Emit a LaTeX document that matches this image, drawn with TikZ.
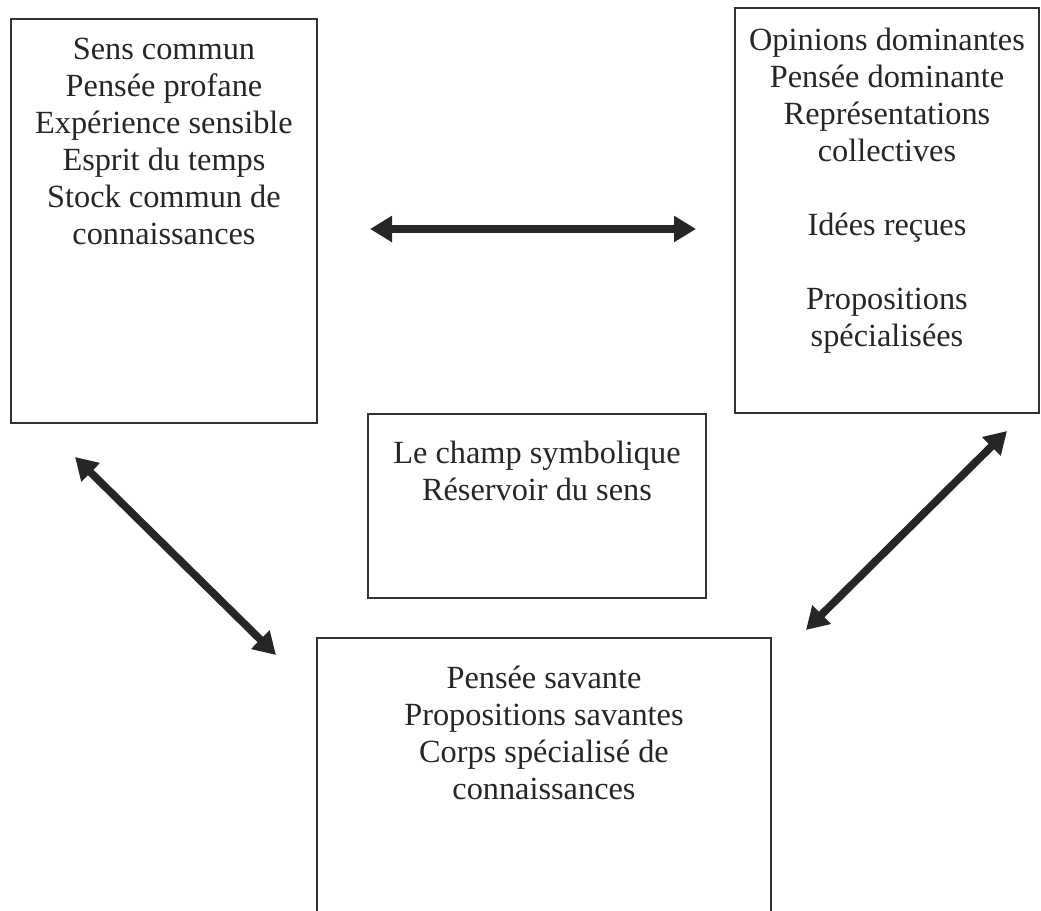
\documentclass[tikz,border=0pt]{standalone}
\usepackage{fontspec}
\setmainfont{Liberation Serif}
\usepackage{tikz}
\usetikzlibrary{calc,arrows.meta}
\definecolor{ink}{HTML}{262626}
\definecolor{frame_grey}{HTML}{333333}

\begin{document}
\begin{tikzpicture}[x=0.02cm, y=-0.02cm,
	box/.style={draw=frame_grey, line width=1.1pt, anchor=north west, outer sep=0pt, inner sep=0pt},
	words/.style={anchor=north, inner sep=0pt, align=center, text=ink, font=\fontsize{18.4pt}{21.05pt}\selectfont},
	link/.style={draw=ink, line width=4.4pt, {Triangle[length=0.44cm, width=0.5cm]}-{Triangle[length=0.44cm, width=0.5cm]}}]
	\path[use as bounding box, clip] (0, 0) rectangle (1041, 911);
	% the four boxes
	\node[box, minimum width=6.12cm, minimum height=8.08cm] (profane) at (11, 19) {};
	\node[box, minimum width=6.08cm, minimum height=8.1cm] (dominant) at (735, 8) {};
	\node[box, minimum width=6.76cm, minimum height=3.68cm] (champ) at (368, 414) {};
	\node[box, minimum width=9.08cm, minimum height=7cm] (savant) at (317, 638) {};
	\node[words] (profaneText) at ($(profane.north) + (0, 19)$) {Sens commun\\Pensée profane\\Expérience sensible\\Esprit du temps\\Stock commun de\\connaissances};
	\node[words] (dominantText) at ($(dominant.north) + (0, 20)$) {Opinions dominantes\\Pensée dominante\\Représentations\\collectives\\ \\Idées reçues\\ \\Propositions\\spécialisées};
	\node[words] (champText) at ($(champ.north) + (0, 27)$) {Le champ symbolique\\Réservoir du sens};
	\node[words] (savantText) at ($(savant.north) + (0, 28)$) {Pensée savante\\Propositions savantes\\Corps spécialisé de\\connaissances};
	% ends of the arrows
	\coordinate (H1) at (370, 229);
	\coordinate (H2) at (696, 229);
	\coordinate (L1) at (75, 457);
	\coordinate (L2) at (276, 655);
	\coordinate (R1) at (1007, 431);
	\coordinate (R2) at (806, 630);
	\draw[link] (H1) -- (H2);
	\draw[link] (L1) -- (L2);
	\draw[link] (R1) -- (R2);
\end{tikzpicture}
\end{document}
